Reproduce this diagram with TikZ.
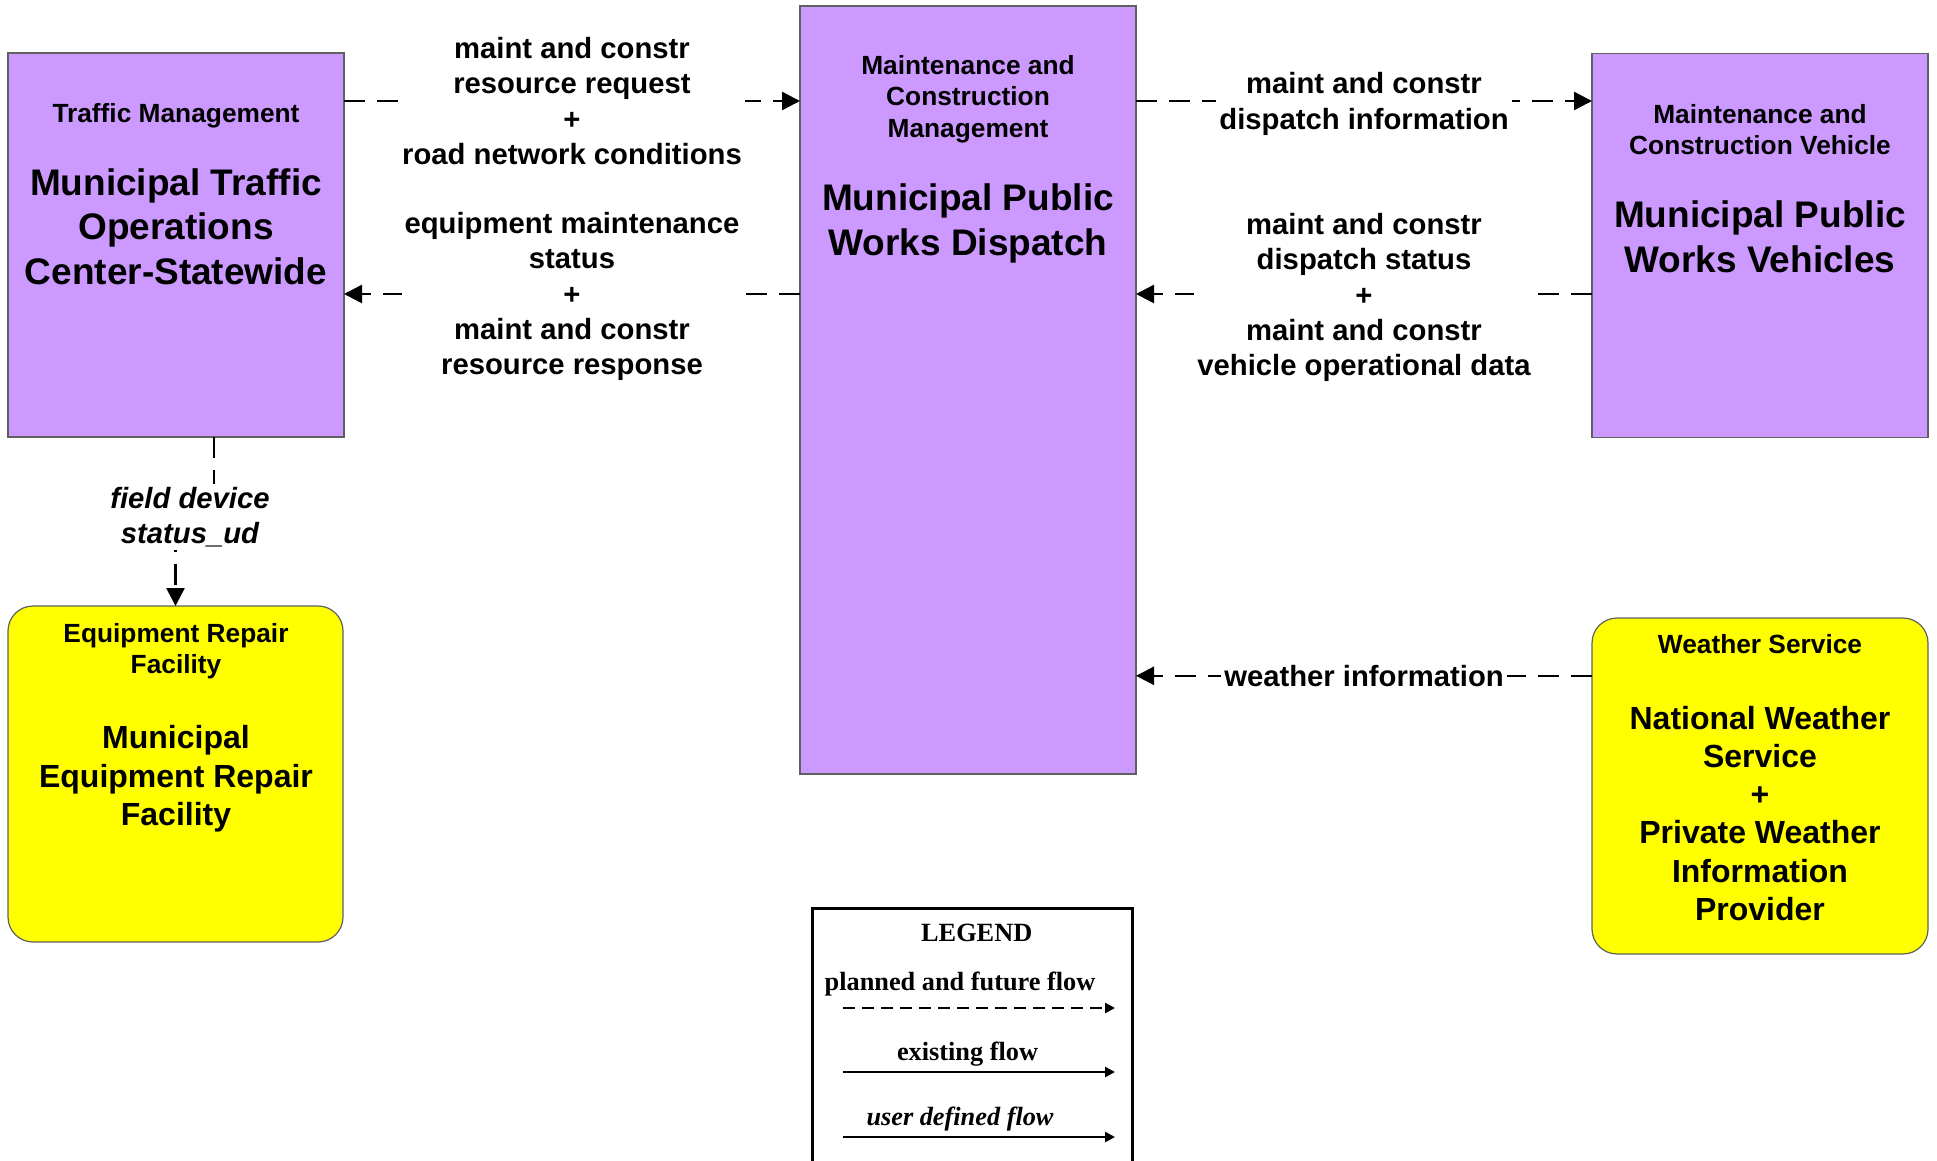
\documentclass[tikz,border=0pt]{standalone}
\usepackage{fontspec}
\setmainfont{Liberation Sans}
\newfontfamily\lgfamily{Liberation Serif}
\usetikzlibrary{arrows.meta}
\definecolor{purp}{RGB}{204,153,255}
\definecolor{ylw}{RGB}{255,255,0}
\definecolor{edge}{RGB}{96,96,96}
\newcommand\fcat{\fontsize{26.3pt}{31.6pt}\selectfont\bfseries}
\newcommand\fname{\fontsize{37pt}{44.5pt}\selectfont\bfseries}
\newcommand\fyname{\fontsize{32pt}{38.3pt}\selectfont\bfseries}
\newcommand\fflow{\fontsize{29.25pt}{35.2pt}\selectfont\bfseries}
\newcommand\flg{\lgfamily\fontsize{26.3pt}{31.6pt}\selectfont\bfseries}
\tikzset{
  box/.style={draw=edge, line width=1.2pt, inner sep=0pt, outer sep=0pt, anchor=north west},
  pbox/.style={box, fill=purp},
  ybox/.style={box, fill=ylw, rounded corners=25pt},
  txt/.style={align=center, inner sep=0pt},
  flow/.style={line width=2.6pt, dash pattern=on 21pt off 12pt, -{Triangle[length=18pt,width=18pt]}},
  flowlbl/.style={fill=white, inner sep=3pt, align=center, font=\fflow},
  lgarrow/.style={line width=2.8pt, -{Triangle[length=10pt,width=10pt]}},
}
\begin{document}
\begin{tikzpicture}[x=1pt,y=-1pt]
\fill[white] (0,0) rectangle (1937,1161);
\useasboundingbox (0,0) rectangle (1937,1161);

% boxes
\node[pbox, minimum width=336pt, minimum height=384pt] (TM) at (8,53) {};
\node[pbox, minimum width=336pt, minimum height=768pt] (MCM) at (800,6) {};
\node[pbox, minimum width=336pt, minimum height=384pt] (MCV) at (1592,53.5) {};
\node[ybox, minimum width=335pt, minimum height=336pt] (ERF) at (8,606) {};
\node[ybox, minimum width=336pt, minimum height=336pt] (WS) at (1592,618) {};

% box texts
\node[txt, font=\fcat] (TMc) at (176,116) {Traffic Management};
\node[txt, font=\fname] (TMn) at (176,226.5) {Municipal Traffic\\Operations\\Center-Statewide};
\node[txt, font=\fcat] (MCMc) at (968,99) {Maintenance and\\Construction\\Management};
\node[txt, font=\fname] (MCMn) at (968,223.5) {Municipal Public\\Works Dispatch};
\node[txt, font=\fcat] (MCVc) at (1760,129.5) {Maintenance and\\Construction Vehicle};
\node[txt, font=\fname] (MCVn) at (1760,237) {Municipal Public\\Works Vehicles};
\node[txt, font=\fcat] (ERFc) at (176,651) {Equipment Repair\\Facility};
\node[txt, font=\fyname] (ERFn) at (176,779) {Municipal\\Equipment Repair\\Facility};
\node[txt, font=\fcat] (WSc) at (1760,644) {Weather Service};
\node[txt, font=\fyname] (WSn) at (1760,813.4) {National Weather\\Service\\+\\Private Weather\\Information\\Provider};

% flow levels
\coordinate (ya) at (0,101);
\coordinate (yb) at (0,294);
\coordinate (yc) at (0,675.8);

\draw[flow] (TM.east |- ya) -- node[flowlbl] (L1) {maint and constr\\resource request\\+\\road network conditions} (MCM.west |- ya);
\draw[flow] (MCM.west |- yb) -- node[flowlbl, yshift=-2.5pt] (L2) {equipment maintenance\\status\\+\\maint and constr\\resource response} (TM.east |- yb);
\draw[flow] (MCM.east |- ya) -- node[flowlbl, yshift=-3pt] (L3) {maint and constr\\dispatch information} (MCV.west |- ya);
\draw[flow] (MCV.west |- yb) -- node[flowlbl, yshift=-3.5pt] (L4) {maint and constr\\dispatch status\\+\\maint and constr\\vehicle operational data} (MCM.east |- yb);
\draw[flow] (WS.west |- yc) -- node[flowlbl] (L5) {weather information} (MCM.east |- yc);

\coordinate (fd) at (214,516);
\draw[flow] (TM.south -| fd) -- (fd) -- (fd -| ERF.north) -- (ERF.north);
\node[flowlbl, font=\fflow\itshape] (L6) at (190,517) {field device\\status\_ud};

% legend
\node[draw, line width=3pt, minimum width=320pt, minimum height=300pt, inner sep=0pt, anchor=north west] (LG) at (810.7,906.7) {};
\node[txt, font=\flg] (LGt) at (976.7,933) {LEGEND};
\node[txt, font=\flg] (LGp) at (960,984) {planned and future flow};
\node[txt, font=\flg] (LGe) at (967.5,1054) {existing flow};
\node[txt, font=\flg\itshape] (LGu) at (960,1119) {user defined flow};
\coordinate (p1) at (843,1008);
\coordinate (p2) at (1115,1008);
\coordinate (e1) at (843,1072);
\coordinate (e2) at (1115,1072);
\coordinate (u1) at (843,1137);
\coordinate (u2) at (1115,1137);
\draw[lgarrow, dash pattern=on 12pt off 7pt] (p1) -- (p2);
\draw[lgarrow] (e1) -- (e2);
\draw[lgarrow] (u1) -- (u2);
\end{tikzpicture}
\end{document}
